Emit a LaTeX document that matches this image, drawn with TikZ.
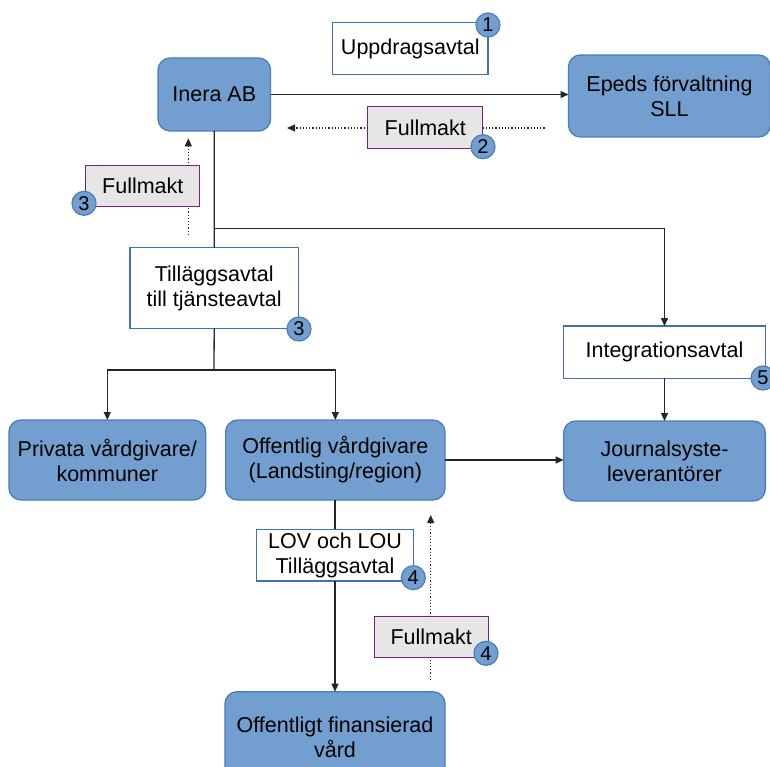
\documentclass[tikz,border=0pt]{standalone}
\usepackage{fontspec}
\setmainfont{Liberation Sans}
\usetikzlibrary{arrows.meta}
\definecolor{boxfill}{HTML}{729FCF}
\definecolor{boxline}{HTML}{4A7EBB}
\definecolor{lblline}{HTML}{3F70B8}
\definecolor{fmfill}{HTML}{E7E6E6}
\definecolor{fmline}{HTML}{7F207F}
\tikzset{
  base/.style={rectangle, inner sep=0pt, outer sep=0pt, align=center, font=\fontsize{21.5}{25}\selectfont},
  actor/.style={base, rounded corners=12pt, fill=boxfill, draw=boxline, line width=1.3pt},
  lbl/.style={base, fill=white, draw=lblline, line width=1.2pt},
  fm/.style={base, fill=fmfill, draw=fmline, line width=1pt},
  badge/.style={circle, minimum size=24pt, inner sep=0pt, fill=boxfill, draw=boxline, line width=1.2pt, font=\fontsize{20}{20}\selectfont},
  conn/.style={line width=1.3pt, draw=black!85},
  arr/.style={conn, -{Triangle[length=8pt,width=7pt]}},
  dot/.style={line width=1.2pt, dotted, draw=black!85},
  dotarr/.style={dot, -{Triangle[length=8pt,width=7pt]}},
}
\begin{document}
\begin{tikzpicture}[x=1pt,y=-1pt]
\useasboundingbox (0,0) rectangle (770,767);
% coordinates for free ends
\coordinate (f2end) at (546,128);
\coordinate (f2tip) at (287,128);
\coordinate (f3bot) at (188.3,235);
\coordinate (f3top) at (188.3,138.3);
\coordinate (br) at (214,228.3);
\coordinate (split) at (214,370);
\coordinate (f4bot) at (430.7,680);
\coordinate (f4top) at (430.7,515);
% nodes
\node[actor, minimum width=112.5pt, minimum height=73pt] (inera) at (214.3,94.5) {Inera AB};
\node[actor, minimum width=202pt, minimum height=82pt] (epeds) at (669.5,96) {Epeds förvaltning\\SLL};
\node[lbl, minimum width=155.3pt, minimum height=52pt] (uppdrag) at (410.3,48.7) {Uppdragsavtal};
\node[fm, minimum width=114.7pt, minimum height=42pt] (full2) at (425.3,128) {Fullmakt};
\node[fm, minimum width=114.3pt, minimum height=40.7pt] (full3) at (142.8,186.3) {Fullmakt};
\node[lbl, minimum width=168.3pt, minimum height=80.6pt] (tillagg) at (214.2,288) {Tilläggsavtal\\till tjänsteavtal};
\node[actor, minimum width=196.7pt, minimum height=80pt] (privata) at (107.3,460) {Privata vårdgivare/\\kommuner};
\node[actor, minimum width=219.3pt, minimum height=80pt] (offentlig) at (335.3,460) {Offentlig vårdgivare\\(Landsting/region)};
\node[lbl, minimum width=202.4pt, minimum height=52.3pt] (integ) at (664.5,352.2) {Integrationsavtal};
\node[actor, minimum width=201.7pt, minimum height=80pt] (journal) at (664.5,461) {Journalsyste-\\leverantörer};
\node[lbl, minimum width=156.6pt, minimum height=51.7pt] (lov) at (335,555.2) {LOV och LOU\\Tilläggsavtal};
\node[fm, minimum width=114.3pt, minimum height=40.6pt] (full4) at (431.2,637) {Fullmakt};
\node[actor, minimum width=220pt, minimum height=92pt] (offfin) at (335,737.7) {Offentligt finansierad\\vård};
% connectors
\draw[arr] (inera.east) -- (inera.east -| epeds.west);
\draw[dot] (full2.east) -- (f2end);
\draw[dotarr] (full2.west) -- (f2tip);
\draw[dot] (f3bot) -- (f3bot |- full3.south);
\draw[dotarr] (f3bot |- full3.north) -- (f3top);
\draw[conn] (inera.south) -- (tillagg.north);
\draw[arr] (br) -| (integ.north);
\draw[conn] (tillagg.south) -- (split);
\draw[arr] (split) -| (privata.north);
\draw[arr] (split) -| (offentlig.north);
\draw[arr] (integ.south) -- (journal.north);
\draw[arr] (offentlig.east) -- (offentlig.east -| journal.west);
\draw[conn] (offentlig.south -| lov.north) -- (lov.north);
\draw[arr] (lov.south) -- (offfin.north);
\draw[dot] (f4bot) -- (f4bot |- full4.south);
\draw[dotarr] (f4bot |- full4.north) -- (f4top);
% badges
\node[badge] (b1) at (488,25) {1};
\node[badge] (b2) at (483,146.7) {2};
\node[badge] (b3a) at (84,203.3) {3};
\node[badge] (b3b) at (299,329) {3};
\node[badge] (b5) at (763,378) {5};
\node[badge] (b4a) at (413.3,577.7) {4};
\node[badge] (b4b) at (486,653.3) {4};
\end{tikzpicture}
\end{document}
